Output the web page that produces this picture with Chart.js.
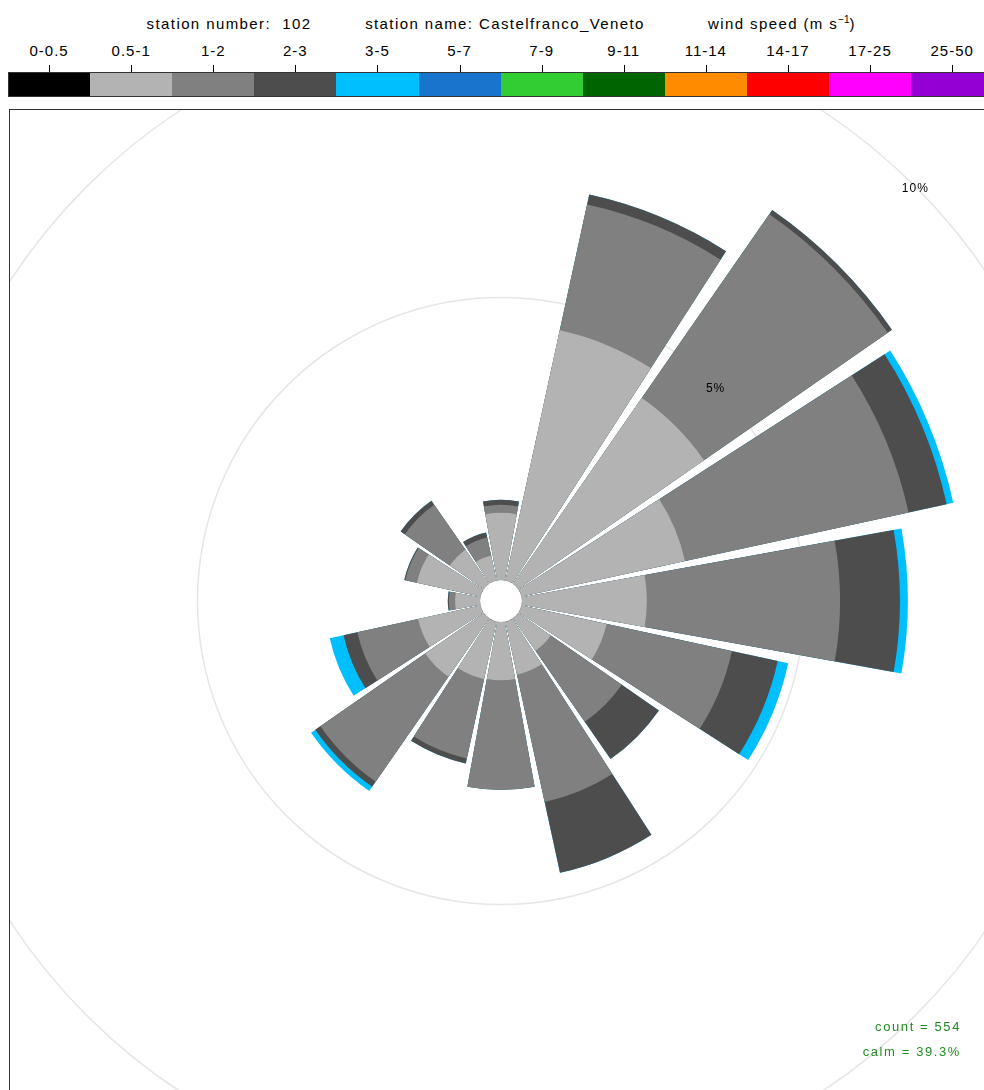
<!DOCTYPE html>
<html>
<head>
<meta charset="utf-8">
<script src="https://cdn.jsdelivr.net/npm/chart.js@4.4.1/dist/chart.umd.min.js"></script>
<style>
  html, body { margin: 0; padding: 0; background: #fff; overflow: hidden; }
  body { width: 984px; height: 1090px; position: relative; font-family: "Liberation Sans", Arial, sans-serif; color: #000; }
  .hdr { position: absolute; top: 16px; font-size: 15px; line-height: 15px; letter-spacing: 1.4px; white-space: nowrap; transform: translateX(-50%); }
  .hdr sup { font-size: 10px; line-height: 0; letter-spacing: 0; }
  .klab { position: absolute; top: 43px; font-size: 15px; line-height: 15px; letter-spacing: 1px; white-space: nowrap; transform: translateX(-50%); }
  .ktick { position: absolute; top: 65px; width: 1px; height: 7px; background: #000; }
  .kcell { position: absolute; top: 72px; height: 24px; }
  #keyframe { position: absolute; left: 8px; top: 72px; width: 990px; height: 23px; border-top: 1px solid #333; border-bottom: 1px solid #333; border-left: 1px solid #333; }
  #panel { position: absolute; left: 9px; top: 109px; width: 1000px; height: 1000px; overflow: hidden; border: 1px solid #333; }
  #wrap { position: absolute; left: -109px; top: -109px; width: 1200px; height: 1200px; }
  .note { position: absolute; right: 23px; font-size: 13px; line-height: 13px; letter-spacing: 1.6px; color: #228B22; white-space: nowrap; }
</style>
</head>
<body>
<div class="hdr" style="left:229px">station number:&nbsp; 102</div>
<div class="hdr" style="left:505px">station name: Castelfranco_Veneto</div>
<div class="hdr" style="left:782px">wind speed (m s<sup>&minus;1</sup>)</div>
<div id="key"></div>
<div id="keyframe"></div>
<div id="panel"><div id="wrap"><canvas id="rose" width="1200" height="1200"></canvas></div></div>
<div class="note" style="top:1020px">count = 554</div>
<div class="note" style="top:1045px">calm = 39.3%</div>

<script>
// Directions (16 sectors, clockwise from north)
const directions = ["N", "NNE", "NE", "ENE", "E", "ESE", "SE", "SSE", "S", "SSW", "SW", "WSW", "W", "WNW", "NW", "NNW"];

// Wind speed classes (m/s) and their key colours
const speedBins = ["0-0.5", "0.5-1", "1-2", "2-3", "3-5", "5-7", "7-9", "9-11", "11-14", "14-17", "17-25", "25-50"];
const binColours = ["#000000", "#B3B3B3", "#808080", "#4D4D4D", "#00BFFF", "#1874CD", "#32CD32", "#006400", "#FF8C00", "#FF0000", "#FF00FF", "#9400D3"];

// Frequency (% of all hours) per direction for each speed class
const freq_0_05 = [0, 0, 0, 0, 0, 0, 0, 0, 0, 0, 0, 0, 0, 0, 0, 0];
const freq_05_1 = [1.19, 4.53, 4.00, 2.96, 2.21, 1.54, 0.70, 0.96, 1.03, 1.04, 1.26, 1.13, 0.44, 1.15, 0.73, 0.45];
const freq_1_2  = [0.14, 2.28, 3.96, 4.05, 3.42, 2.27, 1.53, 2.31, 1.94, 1.44, 2.26, 1.10, 0.11, 0.21, 0.97, 0.33];
const freq_2_3  = [0.09, 0.18, 0.09, 0.69, 1.06, 0.83, 0.80, 1.28, 0.00, 0.09, 0.11, 0.25, 0.02, 0.02, 0.09, 0.09];
const freq_3_5  = [0, 0, 0, 0.12, 0.14, 0.19, 0, 0, 0, 0, 0.09, 0.25, 0, 0, 0, 0];

// Grid rings (%)
const gridSteps = [5, 10];

const binData = [freq_0_05, freq_05_1, freq_1_2, freq_2_3, freq_3_5];

// geometry of the rose
const HOLE = 21;        // px radius of the calm circle
const PX_PER_PCT = 56.5;
const WEDGE = 20.5;     // degrees per bar
const GAP = 360 / directions.length - WEDGE;

// key above the plot
const key = document.getElementById("key");
const cellW = 82.1;
speedBins.forEach((lab, i) => {
    const cx = 8 + cellW * (i + 0.5);
    const l = document.createElement("div");
    l.className = "klab";
    l.style.left = cx + "px";
    l.textContent = lab;
    key.appendChild(l);

    const t = document.createElement("div");
    t.className = "ktick";
    t.style.left = Math.round(cx) + "px";
    key.appendChild(t);

    const c = document.createElement("div");
    c.className = "kcell";
    c.style.left = (8 + cellW * i) + "px";
    c.style.width = (cellW + 0.5) + "px";
    c.style.background = binColours[i];
    key.appendChild(c);
});

// cumulative values, interleaved with empty gap sectors
const labels = [];
directions.forEach(d => { labels.push(d, ""); });

let running = directions.map(() => 0);
const datasets = binData.map((vals, k) => {
    running = running.map((v, i) => v + vals[i]);
    const data = [];
    running.forEach(v => { data.push(+v.toFixed(3), 0); });
    return {
        label: speedBins[k],
        data: data,
        backgroundColor: ctx => ctx.dataIndex % 2 ? "rgba(0,0,0,0)" : binColours[k],
        borderWidth: 0,
        angle: ctx => ctx.dataIndex % 2 ? GAP : WEDGE
    };
});

const roseExtras = {
    id: "roseExtras",
    afterDatasetsDraw(chart) {
        const r = chart.scales.r;
        const ctx = chart.ctx;
        ctx.save();
        ctx.fillStyle = "#fff";
        ctx.beginPath();
        ctx.arc(r.xCenter, r.yCenter, r.getDistanceFromCenterForValue(0), 0, Math.PI * 2);
        ctx.fill();

        ctx.fillStyle = "#000";
        ctx.font = '12px "Liberation Sans", Arial, sans-serif';
        ctx.letterSpacing = "1px";
        ctx.textAlign = "center";
        ctx.textBaseline = "middle";
        gridSteps.forEach(v => {
            const d = r.getDistanceFromCenterForValue(v);
            ctx.fillText(v + "%", r.xCenter + d * Math.SQRT1_2, r.yCenter - d * Math.SQRT1_2 + 2);
        });
        ctx.restore();
    }
};

const minV = -HOLE / PX_PER_PCT;

new Chart(document.getElementById("rose"), {
    type: "polarArea",
    data: { labels: labels, datasets: datasets },
    options: {
        responsive: false,
        animation: false,
        layout: { padding: 0 },
        plugins: {
            legend: { display: false },
            tooltip: { enabled: false }
        },
        scales: {
            r: {
                min: minV,
                max: minV + 600 / PX_PER_PCT,
                startAngle: -WEDGE / 2,
                ticks: { display: false },
                afterBuildTicks: s => { s.ticks = gridSteps.map(v => ({ value: v })); },
                grid: { color: "#e6e6e6", lineWidth: 1.5, circular: true },
                angleLines: { display: false },
                pointLabels: { display: false }
            }
        }
    },
    plugins: [roseExtras]
});
</script>
</body>
</html>
